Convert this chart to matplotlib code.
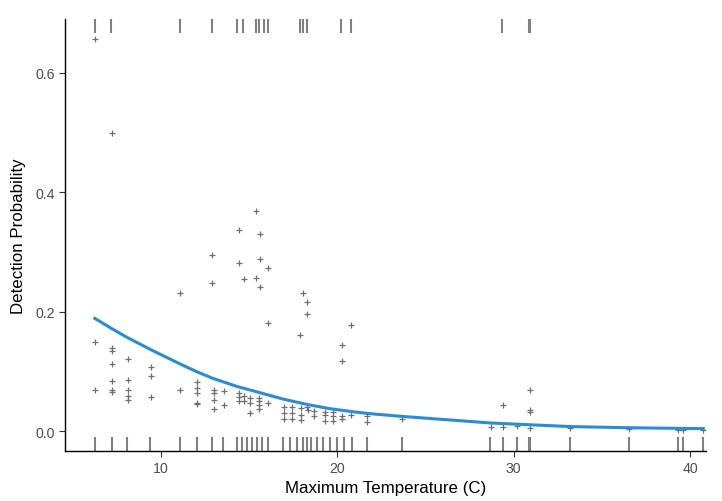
import numpy as np
import matplotlib
matplotlib.use('Agg')
import matplotlib.pyplot as plt
import matplotlib.transforms as mtransforms

plt.rcParams['font.family'] = ['Liberation Sans', 'DejaVu Sans']

# observed detection proportions per site
temp_pts = [6.28, 6.28, 6.28,
            7.23, 7.23, 7.23, 7.23, 7.23, 7.23, 7.23,
            8.15, 8.15, 8.15, 8.15, 8.15,
            9.47, 9.47, 9.47,
            11.13, 11.13,
            12.07, 12.07, 12.07, 12.07, 12.07,
            12.92, 12.92,
            13.02, 13.02, 13.02, 13.02,
            13.6, 13.6,
            14.43, 14.43, 14.43, 14.43, 14.43,
            14.74, 14.74, 14.74,
            15.07, 15.07, 15.07,
            15.43, 15.43,
            15.6, 15.6, 15.6, 15.6,
            15.66, 15.66, 15.66,
            16.09, 16.09, 16.09,
            16.98, 16.98, 16.98,
            17.45, 17.45, 17.45,
            17.9,
            17.98, 17.98, 17.98,
            18.05,
            18.3, 18.3, 18.3,
            18.36,
            18.68, 18.68,
            19.3, 19.3, 19.3,
            19.77, 19.77, 19.77,
            20.3, 20.3, 20.3, 20.3,
            20.81, 20.81,
            21.7, 21.7,
            23.68,
            28.7,
            29.39, 29.39,
            30.19,
            30.95, 30.95, 30.95, 30.95,
            33.2, 36.56, 39.3, 39.61, 40.75]
prob_pts = [0.657, 0.150, 0.069,
            0.500, 0.139, 0.134, 0.113, 0.084, 0.069, 0.065,
            0.121, 0.086, 0.069, 0.059, 0.052,
            0.108, 0.093, 0.057,
            0.231, 0.069,
            0.083, 0.073, 0.064, 0.048, 0.046,
            0.295, 0.248,
            0.070, 0.064, 0.052, 0.037,
            0.068, 0.044,
            0.337, 0.282, 0.064, 0.058, 0.050,
            0.255, 0.059, 0.050,
            0.056, 0.048, 0.031,
            0.368, 0.257,
            0.055, 0.051, 0.044, 0.037,
            0.331, 0.289, 0.242,
            0.273, 0.181, 0.047,
            0.040, 0.031, 0.020,
            0.040, 0.031, 0.020,
            0.161,
            0.039, 0.027, 0.019,
            0.231,
            0.040, 0.217, 0.197,
            0.036,
            0.034, 0.026,
            0.033, 0.027, 0.018,
            0.032, 0.025, 0.017,
            0.144, 0.117, 0.026, 0.020,
            0.178, 0.027,
            0.025, 0.015,
            0.021,
            0.007,
            0.044, 0.007,
            0.009,
            0.070, 0.035, 0.033, 0.005,
            0.006, 0.004, 0.003, 0.003, 0.003]

# fitted detection probability
curve_x = [6.28, 7.23, 8.12, 9.43, 11.09, 12.04, 12.93, 14.34, 15.47, 16.94,
           18.30, 19.58, 20.85, 21.70, 23.68, 28.68, 30.90, 33.2, 36.56,
           39.30, 40.75]
curve_p = [0.189, 0.172, 0.157, 0.137, 0.113, 0.100, 0.089, 0.075, 0.066,
           0.054, 0.045, 0.038, 0.033, 0.030, 0.025, 0.014, 0.011, 0.008,
           0.006, 0.005, 0.0045]

# rugs: all surveyed temperatures (bottom), detections (top)
rug_bottom = [6.28, 7.23, 8.12, 9.43, 11.09, 12.04, 12.93, 13.55, 14.34, 14.62,
              14.91, 15.19, 15.47, 15.72, 16.07, 16.94, 17.36, 17.74, 18.05,
              18.30, 18.55, 18.87, 19.21, 19.58, 20.0, 20.37, 20.85, 21.70,
              23.68, 28.68, 29.40, 30.19, 30.85, 30.95, 33.2, 36.56, 39.30,
              39.61, 40.75]
rug_top = [6.28, 7.21, 11.09, 12.89, 14.34, 14.68, 15.38, 15.60, 15.85, 16.07,
           17.88, 18.07, 18.30, 20.24, 20.81, 29.34, 30.85, 30.95]

fig = plt.figure(figsize=(7.22, 5.02), dpi=100)
ax = fig.add_axes([64.5 / 722, 50 / 502, 641.5 / 722, 432 / 502])

trans = mtransforms.blended_transform_factory(ax.transData, ax.transAxes)
for x in rug_bottom:
    ax.plot([x, x], [0, 0.033], color='#808080', lw=1.5, transform=trans,
            solid_capstyle='butt', zorder=2)
for x in rug_top:
    ax.plot([x, x], [0.967, 1.0], color='#808080', lw=1.5, transform=trans,
            solid_capstyle='butt', zorder=2)

ax.plot(temp_pts, prob_pts, '+', color='#707070', ms=4, mew=0.9, zorder=3)
ax.plot(curve_x, curve_p, color='#2a8bd6', lw=2.2, zorder=4)

ax.set_xlim(4.56, 40.9)
ax.set_ylim(-0.0329, 0.690)
ax.set_xticks([10, 20, 30, 40])
ax.set_yticks([0.0, 0.2, 0.4, 0.6])
ax.set_yticklabels(['0.0', '0.2', '0.4', '0.6'])

for s in ['top', 'right']:
    ax.spines[s].set_visible(False)
for s in ['left', 'bottom']:
    ax.spines[s].set_linewidth(1.0)
    ax.spines[s].set_color('black')

ax.tick_params(length=4, width=0.8, color='#333333', labelcolor='#4d4d4d',
               labelsize=10.2, pad=3)
ax.set_xlabel('Maximum Temperature (C)', fontsize=12.2, color='black', labelpad=4)
ax.set_ylabel('Detection Probability', fontsize=12.2, color='black', labelpad=7)

fig.savefig('out.png', dpi=100)
